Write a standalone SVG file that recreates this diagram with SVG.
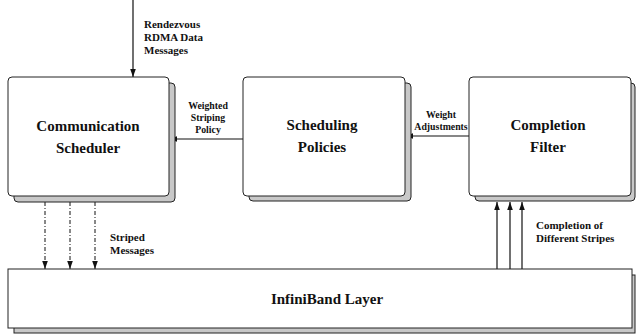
<svg xmlns="http://www.w3.org/2000/svg" width="640" height="335" viewBox="0 0 640 335">
<style>
.sh{fill:#c8c8c8;stroke:#222;stroke-width:1}
.bx{fill:#fff;stroke:#222;stroke-width:1}
text{font-family:"Liberation Serif","DejaVu Serif",serif;font-weight:bold;fill:#111}
.big{font-size:15px}
.sm{font-size:11px}
.xs{font-size:9.8px}
.ln{stroke:#111;stroke-width:1.2;fill:none}
.dd{stroke:#111;stroke-width:1;fill:none;stroke-dasharray:4,2,1,2}
</style>
<defs>
<marker id="ah" viewBox="0 0 10 10" refX="10" refY="5" markerWidth="8" markerHeight="8" markerUnits="userSpaceOnUse" orient="auto">
<path d="M0,1.5 L10,5 L0,8.5 Z" fill="#111" stroke="none"/>
</marker>
</defs>
<g id="connectors">
<line class="ln" x1="133" y1="0" x2="133" y2="77" marker-end="url(#ah)"/>
<line class="ln" x1="243" y1="139" x2="169" y2="139" marker-end="url(#ah)"/>
<line class="ln" x1="469" y1="136" x2="405" y2="136" marker-end="url(#ah)"/>
<line class="dd" x1="45" y1="202" x2="45" y2="269" marker-end="url(#ah)"/>
<line class="dd" x1="70" y1="202" x2="70" y2="269" marker-end="url(#ah)"/>
<line class="dd" x1="95" y1="202" x2="95" y2="269" marker-end="url(#ah)"/>
<line class="ln" x1="497" y1="269" x2="497" y2="202" marker-end="url(#ah)"/>
<line class="ln" x1="510" y1="269" x2="510" y2="202" marker-end="url(#ah)"/>
<line class="ln" x1="522" y1="269" x2="522" y2="202" marker-end="url(#ah)"/>
<text class="sm" x="144" y="28">Rendezvous</text>
<text class="sm" x="144" y="41">RDMA Data</text>
<text class="sm" x="144" y="54">Messages</text>
<text class="xs" x="208" y="109" text-anchor="middle">Weighted</text>
<text class="xs" x="208" y="121" text-anchor="middle">Striping</text>
<text class="xs" x="208" y="133" text-anchor="middle">Policy</text>
<text class="xs" x="441" y="118" text-anchor="middle">Weight</text>
<text class="xs" x="441" y="130" text-anchor="middle">Adjustments</text>
<text class="sm" x="110" y="241">Striped</text>
<text class="sm" x="110" y="254">Messages</text>
<text class="sm" x="536" y="229">Completion of</text>
<text class="sm" x="536" y="242">Different Stripes</text>
</g>
<g id="comm">
<rect class="sh" x="14" y="83" width="161" height="119" rx="4"/>
<rect class="bx" x="8" y="77" width="161" height="119" rx="4"/>
<text class="big" x="88" y="131" text-anchor="middle">Communication</text>
<text class="big" x="88" y="153" text-anchor="middle">Scheduler</text>
</g>
<g id="sched">
<rect class="sh" x="249" y="83" width="162" height="118" rx="4"/>
<rect class="bx" x="243" y="77" width="162" height="119" rx="4"/>
<text class="big" x="322" y="130" text-anchor="middle">Scheduling</text>
<text class="big" x="322" y="152" text-anchor="middle">Policies</text>
</g>
<g id="filter">
<rect class="sh" x="475" y="83" width="160" height="118" rx="4"/>
<rect class="bx" x="469" y="77" width="162" height="119" rx="4"/>
<text class="big" x="548" y="130" text-anchor="middle">Completion</text>
<text class="big" x="548" y="152" text-anchor="middle">Filter</text>
</g>
<g id="ib">
<rect class="sh" x="14" y="275" width="621" height="58"/>
<rect class="bx" x="8" y="269" width="624" height="59"/>
<text font-size="15" x="327" y="304" text-anchor="middle">InfiniBand Layer</text>
</g>
</svg>
